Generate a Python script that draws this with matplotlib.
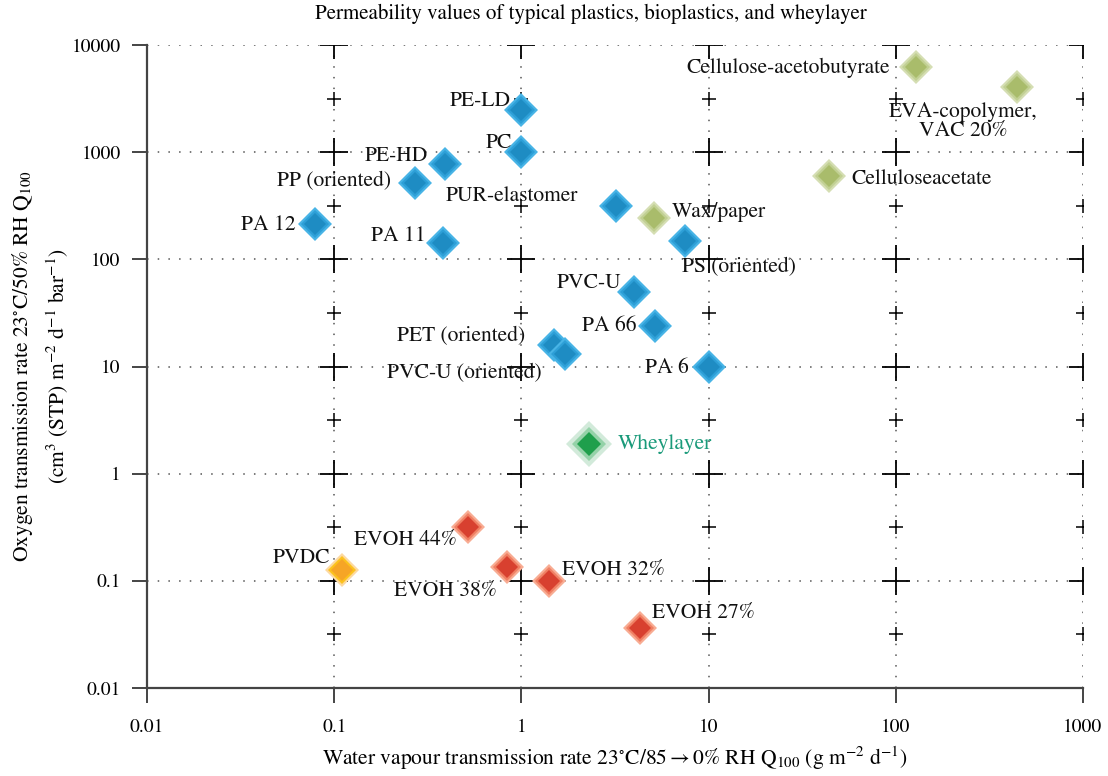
import numpy as np
import matplotlib
matplotlib.use("Agg")
from matplotlib import pyplot as plt

plt.rcParams["font.family"] = ["STIXGeneral", "DejaVu Serif"]
plt.rcParams["mathtext.fontset"] = "stix"

# Data: water vapour rate (x) and oxygen rate (y)
names = ["PE-LD", "PC", "PE-HD", "PP (oriented)", "PA 12", "PA 11",
         "PUR-elastomer", "PS (oriented)", "PVC-U", "PA 66",
         "PET (oriented)", "PVC-U (oriented)", "PA 6",
         "Cellulose-acetobutyrate", "EVA-copolymer,\nVAC 20%",
         "Celluloseacetate", "Wax/paper",
         "EVOH 44%", "EVOH 38%", "EVOH 32%", "EVOH 27%",
         "PVDC", "Wheylayer"]
wvtr = [1.0, 1.0, 0.39, 0.27, 0.079, 0.38,
        3.2, 7.5, 4.0, 5.2,
        1.5, 1.7, 10.0,
        128, 444,
        44, 5.1,
        0.52, 0.84, 1.4, 4.3,
        0.11, 2.3]
otr = [2500, 1000, 780, 520, 213, 142,
       314, 148, 50, 24,
       16, 13, 10,
       6300, 4100,
       600, 243,
       0.32, 0.135, 0.1, 0.036,
       0.125, 1.9]
groups = ["plastic"] * 13 + ["bio"] * 4 + ["evoh"] * 4 + ["pvdc", "whey"]

# styles
colors = {
    "plastic": ["#48b4e6", "#2d9fd7", "#1e8cc3"],
    "bio": ["#d5deb3", "#c1d092", "#a9bc6b"],
    "evoh": ["#f8ac93", "#f07f63", "#d8402f"],
    "pvdc": ["#fdd9a0", "#fcc21d", "#f6a526"],
    "whey": ["#d2eada", "#94d2a8", "#1f9f4c"],
}
sizes = {"normal": [17.8, 14.0, 10.8], "whey": [23.5, 17.5, 12.5]}

# label placement: (dx, dy) in pixels from marker, horizontal alignment
offsets = [(-11, 8, "right"), (-9, 9, "right"), (-17, 8, "right"),
           (-24, 1, "right"), (-19, -1, "right"), (-17, 7, "right"),
           (-38, 10, "right"), (-3, -26, "left"), (-13, 8, "right"),
           (-19, 0, "right"), (-29, 8, "right"), (-23, -19, "right"),
           (-20, -2, "right"),
           (-26, -1, "right"), (-54, -35, "center"),
           (22, -3, "left"), (18, 6, "left"),
           (-11, -13, "right"), (-10, -24, "right"), (13, 11, "left"),
           (12, 15, "left"),
           (-12, 12, "right"), (29, 0, "left")]

fig = plt.figure(figsize=(11.08, 7.76), dpi=100)
ax = fig.add_axes([0.1327, 0.1134, 0.9774 - 0.1327, 0.942 - 0.1134])
ax.set_xscale("log")
ax.set_yscale("log")
ax.set_xlim(0.01, 1000)
ax.set_ylim(0.01, 10000)

# dotted grid at decades
for xv in [0.1, 1, 10, 100, 1000]:
    ax.axvline(xv, color="#555555", lw=1.1, ls=(0, (1, 6)), zorder=1)
for yv in [0.1, 1, 10, 100, 1000, 10000]:
    ax.axhline(yv, color="#555555", lw=1.1, ls=(0, (1, 6)), zorder=1)

# crosses at grid intersections
xd = np.array([0.1, 1, 10, 100, 1000])
yd = 10.0 ** np.arange(-1, 5)
yh = 10.0 ** (np.arange(-2, 4) + 0.5)
gx, gy = np.meshgrid(xd, yd)
ax.plot(gx.ravel(), gy.ravel(), "+", color="black", ms=19.5, mew=1.3,
        zorder=2, clip_on=True)
gx, gy = np.meshgrid(xd, yh)
ax.plot(gx.ravel(), gy.ravel(), "+", color="black", ms=10.5, mew=1.1,
        zorder=2, clip_on=True)

# layered diamond markers
for i in range(len(names)):
    g = groups[i]
    sz = sizes["whey"] if g == "whey" else sizes["normal"]
    for c, s in zip(colors[g], sz):
        ax.plot(wvtr[i], otr[i], "D", color=c, ms=s, mew=0, zorder=3)
    dx, dy, ha = offsets[i]
    ax.annotate(names[i], (wvtr[i], otr[i]), xytext=(dx, dy),
                textcoords="offset pixels", ha=ha, va="center",
                fontsize=15.5, multialignment="center", linespacing=1.0,
                color="#1a9a7a" if g == "whey" else "#111111", zorder=4)

for side in ["top", "right"]:
    ax.spines[side].set_visible(False)
for side in ["left", "bottom"]:
    ax.spines[side].set_linewidth(1.6)
    ax.spines[side].set_color("#444444")

ax.set_xticks([0.01, 0.1, 1, 10, 100, 1000])
ax.set_xticklabels(["0.01", "0.1", "1", "10", "100", "1000"])
ax.set_yticks([0.01, 0.1, 1, 10, 100, 1000, 10000])
ax.set_yticklabels(["0.01", "0.1", "1", "10", "100", "1000", "10000"])
ax.minorticks_off()
ax.tick_params(axis="both", direction="out", length=11, width=1.4,
               color="#444444", labelsize=14, pad=8)
ax.tick_params(axis="x", pad=11)

ax.set_xlabel(r"Water vapour transmission rate 23$^{\circ}$C/85$\rightarrow$0% RH Q$_{100}$ (g m$^{-2}$ d$^{-1}$)",
              fontsize=15.5, labelpad=6)
ax.set_ylabel("Oxygen transmission rate 23$^{\\circ}$C/50% RH Q$_{100}$\n"
              "(cm$^{3}$ (STP) m$^{-2}$ d$^{-1}$ bar$^{-1}$)",
              fontsize=15.5, linespacing=1.45, va="center")
ax.yaxis.set_label_coords(-0.114, 0.5)
fig.text(0.533, 0.982, "Permeability values of typical plastics, bioplastics, and wheylayer",
         ha="center", va="center", fontsize=15)

fig.savefig("out.png", dpi=100)
